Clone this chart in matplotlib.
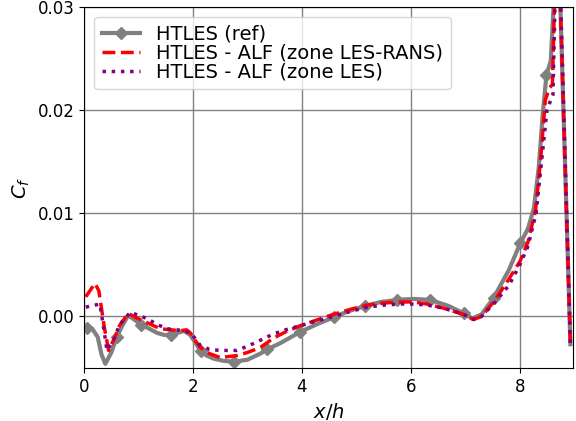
import matplotlib
matplotlib.use("Agg")
import matplotlib.pyplot as plt
import numpy as np

# HTLES (ref)
x_ref = [0.03, 0.05, 0.15, 0.25, 0.32, 0.39, 0.5, 0.6, 0.7, 0.81, 0.92, 1.05, 1.2,
         1.34, 1.47, 1.6, 1.72, 1.83, 1.95, 2.05, 2.15, 2.25, 2.38, 2.55, 2.75, 3.0,
         3.24, 3.36, 3.6, 3.97, 4.3, 4.58, 4.85, 5.15, 5.45, 5.75, 6.05, 6.36, 6.7,
         6.97, 7.13, 7.3, 7.52, 7.8, 8.01, 8.15, 8.26, 8.35, 8.42, 8.49, 8.57, 8.63,
         8.69, 8.93]
cf_ref = [-0.0012, -0.0011, -0.0012, -0.0020, -0.0037, -0.0046, -0.0035, -0.0020,
          -0.0009, 0.0001, -0.0003, -0.0008, -0.0012, -0.0016, -0.0018, -0.0018,
          -0.0016, -0.0014, -0.0018, -0.0026, -0.0034, -0.0038, -0.0041, -0.0043,
          -0.0044, -0.0042, -0.0036, -0.0032, -0.0026, -0.0015, -0.0007, -0.0001,
          0.0005, 0.0010, 0.0014, 0.0016, 0.0017, 0.0016, 0.0010, 0.0003, -0.0002,
          0.0002, 0.0018, 0.0045, 0.0071, 0.0085, 0.0105, 0.0145, 0.0195, 0.0234,
          0.0248, 0.0310, 0.0400, -0.0027]
x_markers = [0.05, 0.6, 1.05, 1.6, 2.15, 2.75, 3.36, 3.97, 4.58, 5.15, 5.75, 6.36,
             6.97, 7.52, 8.01, 8.49]

# HTLES - ALF (zone LES-RANS)
x_rans = [0.03, 0.2, 0.27, 0.37, 0.45, 0.55, 0.65, 0.81, 0.95, 1.15, 1.4, 1.6, 1.76,
          1.88, 1.95, 2.05, 2.13, 2.3, 2.5, 2.8, 3.0, 3.24, 3.48, 3.7, 3.97, 4.3, 4.58,
          4.9, 5.2, 5.5, 5.81, 6.05, 6.3, 6.6, 6.97, 7.15, 7.3, 7.52, 7.75, 8.01, 8.15,
          8.29, 8.38, 8.47, 8.55, 8.6, 8.64, 8.69, 8.93]
cf_rans = [0.0019, 0.0032, 0.0025, -0.0010, -0.0033, -0.0022, -0.0009, 0.0003,
           -0.0001, -0.0006, -0.0012, -0.0013, -0.0014, -0.0013, -0.0016, -0.0024,
           -0.0030, -0.0036, -0.0040, -0.0038, -0.0035, -0.0030, -0.0021, -0.0015,
           -0.0009, -0.0003, 0.0002, 0.0007, 0.0011, 0.0013, 0.0014, 0.0014, 0.0012,
           0.0008, 0.0002, -0.0003, 0.0000, 0.0014, 0.0032, 0.0054, 0.0072, 0.0103,
           0.0150, 0.0210, 0.0222, 0.0225, 0.0310, 0.0400, -0.0027]

# HTLES - ALF (zone LES)
x_les = [0.03, 0.2, 0.29, 0.37, 0.42, 0.55, 0.65, 0.85, 1.0, 1.15, 1.35, 1.52, 1.7,
         1.83, 1.95, 2.05, 2.13, 2.3, 2.5, 2.8, 3.0, 3.24, 3.48, 3.7, 3.97, 4.3, 4.58,
         4.9, 5.2, 5.5, 5.81, 6.05, 6.3, 6.6, 6.97, 7.15, 7.3, 7.55, 7.8, 8.01, 8.15,
         8.3, 8.4, 8.5, 8.57, 8.61, 8.65, 8.70, 8.93]
cf_les = [0.0009, 0.0011, 0.0012, -0.0015, -0.0033, -0.0022, -0.0008, 0.0004, 0.0001,
          -0.0002, -0.0008, -0.0012, -0.0013, -0.0014, -0.0016, -0.0022, -0.0028,
          -0.0032, -0.0033, -0.0033, -0.0029, -0.0023, -0.0017, -0.0013, -0.0009,
          -0.0004, 0.0000, 0.0005, 0.0009, 0.0011, 0.0012, 0.0012, 0.0011, 0.0008,
          0.0002, -0.0003, 0.0000, 0.0014, 0.0030, 0.0051, 0.0068, 0.0100, 0.0150,
          0.0200, 0.0210, 0.0215, 0.0310, 0.0400, -0.0027]

idx_markers = [x_ref.index(v) for v in x_markers]

fig = plt.figure(figsize=(5.76, 4.21), dpi=100)
ax = fig.add_axes([0.146, 0.126, 0.849, 0.857])

ax.plot(x_ref, cf_ref, color="gray", linewidth=3, marker="D", markersize=6,
        markevery=idx_markers, label="HTLES (ref)")
ax.plot(x_rans, cf_rans, color="red", linestyle="--", linewidth=2.5,
        label="HTLES - ALF (zone LES-RANS)")
ax.plot(x_les, cf_les, color="purple", linestyle=":", linewidth=2.5,
        label="HTLES - ALF (zone LES)")

ax.set_xlim(0, 8.98)
ax.set_ylim(-0.005, 0.03)
ax.set_xticks([0, 2, 4, 6, 8])
ax.set_yticks([0.0, 0.01, 0.02, 0.03])
ax.set_yticklabels(["0.00", "0.01", "0.02", "0.03"])
ax.tick_params(labelsize=12)
ax.grid(True, color="gray", linewidth=1)
ax.set_xlabel("$x/h$", fontsize=14)
ax.set_ylabel("$C_f$", fontsize=14)
ax.legend(loc="upper left", fontsize=14, labelspacing=0.0)

fig.savefig("out.png", dpi=100)
